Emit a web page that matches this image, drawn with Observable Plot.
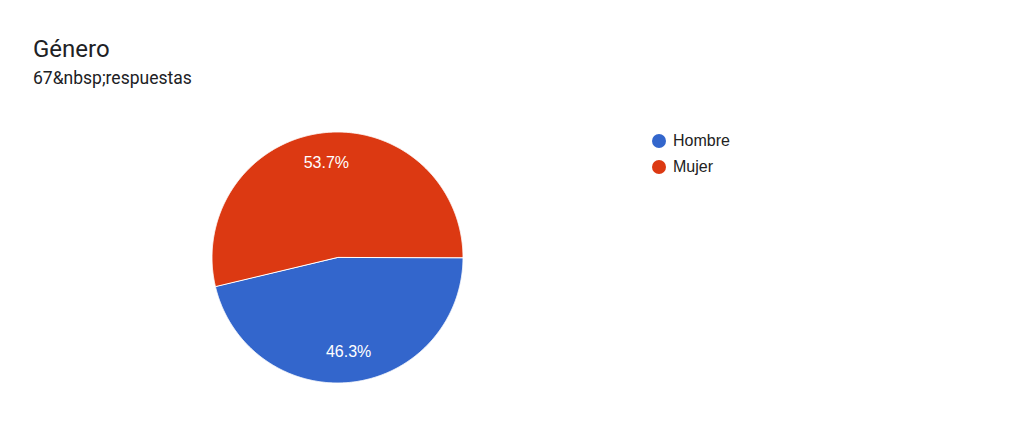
<!DOCTYPE html>
<html>
<head>
<meta charset="utf-8">
<script src="https://cdn.jsdelivr.net/npm/d3@7"></script>
<script src="https://cdn.jsdelivr.net/npm/@observablehq/plot@0.6"></script>
<style>
  html, body { margin: 0; padding: 0; background: #fff; }
  body { width: 1024px; height: 431px; position: relative; overflow: hidden; }
  #title { position: absolute; left: 33px; top: 37px; font: 24px/24px Roboto, sans-serif; color: #202124; white-space: nowrap; }
  #subtitle { position: absolute; left: 33px; top: 70px; font: 17.5px/16px Roboto, sans-serif; color: #202124; white-space: nowrap; }
  #chart { position: absolute; left: 211px; top: 131px; }
  #legend { position: absolute; left: 652px; top: 128px; font: 16px/26px Arial, "Liberation Sans", sans-serif; color: #222; }
  .row { display: flex; align-items: center; height: 26px; }
  .sw { width: 14px; height: 14px; border-radius: 50%; margin-right: 7px; }
</style>
</head>
<body>
<div id="title"></div>
<div id="subtitle"></div>
<div id="chart"></div>
<div id="legend"></div>
<script>
const titleText = "Género";
const subtitleText = "67&nbsp;respuestas";
const categories = ["Hombre", "Mujer"];
const counts = [31, 36];
const colors = ["#3366cc", "#dc3912"];

document.getElementById("title").textContent = titleText;
document.getElementById("subtitle").textContent = subtitleText;

const total = d3.sum(counts);
let acc = Math.PI / 2; // first slice starts at 3 o'clock, clockwise
const slices = categories.map((c, i) => {
  const a0 = acc, a1 = acc + counts[i] / total * 2 * Math.PI;
  acc = a1;
  return {c, a0, a1, v: counts[i]};
});
const pts = slices.flatMap(s => {
  const n = Math.max(2, Math.ceil((s.a1 - s.a0) / (Math.PI / 720)));
  const arr = [{c: s.c, x: 0, y: 0}];
  for (let k = 0; k <= n; k++) {
    const a = s.a0 + (s.a1 - s.a0) * k / n;
    arr.push({c: s.c, x: Math.sin(a), y: Math.cos(a)});
  }
  return arr;
});
const labels = slices.map(s => {
  const m = (s.a0 + s.a1) / 2;
  return {c: s.c, x: 0.76 * Math.sin(m), y: 0.76 * Math.cos(m), t: (s.v / total * 100).toFixed(1) + "%"};
});

const D = 1.004;
const plot = Plot.plot({
  width: 252, height: 252, margin: 0,
  x: {domain: [-D, D], axis: null},
  y: {domain: [-D, D], axis: null},
  color: {domain: categories, range: colors},
  style: {overflow: "visible", background: "transparent"},
  marks: [
    Plot.line(pts, {x: "x", y: "y", z: "c", fill: "c", stroke: "white", strokeWidth: 1, curve: "linear-closed"}),
    Plot.text(labels, {x: "x", y: "y", text: "t", fill: "white", fontSize: 16, fontFamily: "Arial, 'Liberation Sans', sans-serif"})
  ]
});
document.getElementById("chart").appendChild(plot);

const legend = document.getElementById("legend");
categories.forEach((c, i) => {
  const row = document.createElement("div");
  row.className = "row";
  const sw = document.createElement("div");
  sw.className = "sw";
  sw.style.background = colors[i];
  const lab = document.createElement("span");
  lab.textContent = c;
  row.appendChild(sw); row.appendChild(lab);
  legend.appendChild(row);
});
</script>
</body>
</html>
